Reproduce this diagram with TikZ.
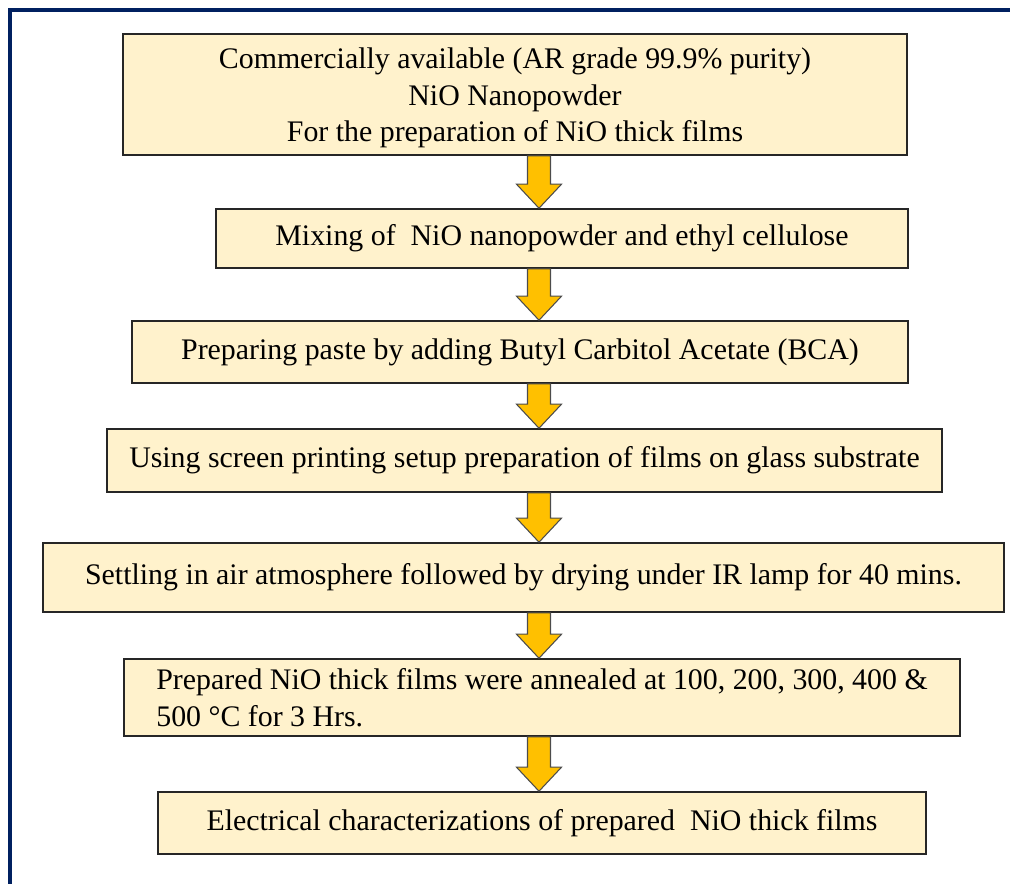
\documentclass[tikz,border=0pt]{standalone}
\usepackage{fontspec}
\setmainfont{Liberation Serif}
\usetikzlibrary{calc}
\definecolor{boxfill}{HTML}{FFF2CC}
\definecolor{arrfill}{HTML}{FFC000}
\definecolor{frameblue}{HTML}{002060}
\newcommand\fatarrow[2]{%
  \path (#1.south -| ax) coordinate (s) (#2.north -| ax) coordinate (t);
  \draw[arr] ($(s)+(-11.5,0)$) -- ($(t)+(-11.5,-24)$) -- ($(t)+(-22.5,-24)$) -- (t)
     -- ($(t)+(22.5,-24)$) -- ($(t)+(11.5,-24)$) -- ($(s)+(11.5,0)$) -- cycle;}
\begin{document}
\begin{tikzpicture}[x=0.75pt,y=-0.75pt,
  box/.style={draw=black!85, line width=1.2pt, fill=boxfill, inner sep=0pt, align=center,
    font=\fontsize{22.4}{27.3}\selectfont},
  arr/.style={fill=arrfill, draw=black!70, line width=0.8pt, line join=miter}]
\useasboundingbox (0,0) rectangle (1010,883);
\draw[frameblue, line width=2.5pt] (10,885) -- (10,10) -- (1012,10);
\coordinate (ax) at (539,0);
\node[box, minimum width=784*0.75pt, minimum height=121*0.75pt] (b1) at (515,94.5)
  {\rule{0pt}{21pt}Commercially available (AR grade 99.9\% purity)\\NiO Nanopowder\\For the preparation of NiO thick films};
\node[box, minimum width=692*0.75pt, minimum height=59*0.75pt] (b2) at (562,238.5)
  {Mixing of\ \ NiO nanopowder and ethyl cellulose};
\node[box, minimum width=776*0.75pt, minimum height=62*0.75pt] (b3) at (520,352)
  {Preparing paste by adding Butyl Carbitol Acetate (BCA)};
\node[box, minimum width=835*0.75pt, minimum height=63*0.75pt] (b4) at (524.5,460.5)
  {Using screen printing setup preparation of films on glass substrate};
\node[box, minimum width=961*0.75pt, minimum height=69*0.75pt] (b5) at (523.5,577.5)
  {Settling in air atmosphere followed by drying under IR lamp for 40 mins.};
\node[box, align=left, minimum width=836*0.75pt, minimum height=77*0.75pt] (b6) at (542,697.5)
  {Prepared NiO thick films were annealed at 100, 200, 300, 400 \&\\500 °C for 3 Hrs.};
\node[box, minimum width=768*0.75pt, minimum height=62*0.75pt] (b7) at (542,823)
  {Electrical characterizations of prepared\ \ NiO thick films};
\fatarrow{b1}{b2}
\fatarrow{b2}{b3}
\fatarrow{b3}{b4}
\fatarrow{b4}{b5}
\fatarrow{b5}{b6}
\fatarrow{b6}{b7}
\end{tikzpicture}
\end{document}
